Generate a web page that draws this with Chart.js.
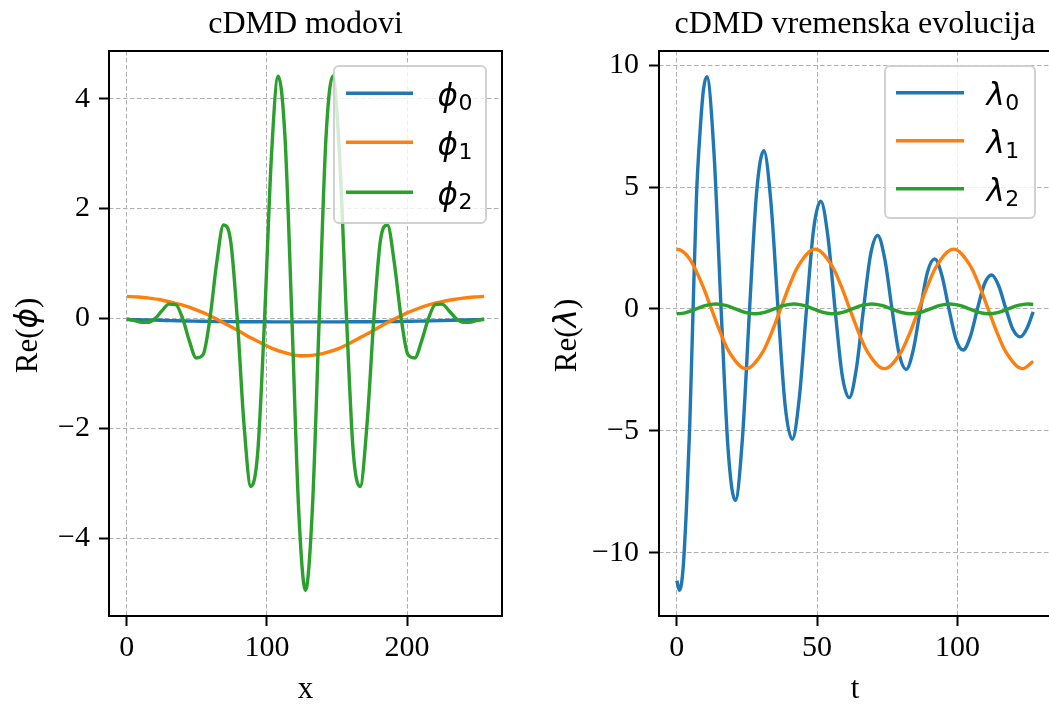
<!DOCTYPE html>
<html><head><meta charset="utf-8">
<script src="https://cdn.jsdelivr.net/npm/chart.js@4.4.1/dist/chart.umd.min.js"></script>
<style>
html,body{margin:0;padding:0;background:#fff;overflow:hidden;width:1049px;height:704px;position:relative;}
#c1{position:absolute;left:0;top:0;}
#c2{position:absolute;left:530px;top:0;}
</style></head><body>
<canvas id="c1" width="525" height="704"></canvas>
<canvas id="c2" width="570" height="704"></canvas>
<script>
// ---------- Left panel: cDMD modes ----------
const phiX = [0,8,16,24,32,40,48,56,64,72,80,88,96,104,112,120,128,136,144,152,160,168,176,184,192,200,208,216,224,232,240,248,255];
const phi0 = [-0.020,-0.025,-0.030,-0.035,-0.040,-0.045,-0.050,-0.053,-0.056,-0.058,-0.060,-0.061,-0.062,-0.063,-0.063,-0.064,-0.064,-0.064,-0.063,-0.063,-0.062,-0.061,-0.060,-0.058,-0.056,-0.053,-0.050,-0.045,-0.040,-0.035,-0.030,-0.025,-0.020];
const phi1 = [0.40,0.39,0.37,0.34,0.29,0.24,0.17,0.09,-0.01,-0.12,-0.23,-0.35,-0.45,-0.55,-0.62,-0.67,-0.68,-0.66,-0.61,-0.54,-0.44,-0.33,-0.22,-0.10,0.00,0.10,0.18,0.25,0.30,0.34,0.37,0.39,0.40];
const phi2X = [0,5.6,10.5,15.4,20.3,25.1,30.0,34.9,39.8,44.6,49.5,54.4,59.3,64.1,69.0,73.9,78.8,83.6,88.5,93.4,98.3,103.1,108.0,112.9,117.8,122.6,127.5,132.4,137.3,142.1,147.0,151.9,156.8,161.6,166.5,171.4,176.3,181.1,186.0,190.9,195.8,200.6,205.5,210.4,215.3,220.1,225.0,229.9,234.8,239.6,244.5,249.4,255];
const phi2 = [-0.01,-0.04,-0.07,-0.07,0.00,0.14,0.26,0.25,0.00,-0.41,-0.72,-0.66,0.00,1.01,1.70,1.44,0.00,-1.93,-3.06,-2.44,0.00,2.91,4.41,3.28,0.00,-3.47,-4.95,-3.47,0.00,3.28,4.41,2.91,0.00,-2.44,-3.06,-1.93,0.00,1.44,1.70,1.01,0.00,-0.66,-0.72,-0.41,0.00,0.25,0.26,0.14,0.00,-0.07,-0.07,-0.04,-0.01];
const xTicksLeft = [0,100,200];
const yTicksLeft = [-4,-2,0,2,4];

// ---------- Right panel: cDMD time evolution ----------
const lam0T = [0,0.95,2.2,3.5,4.6,5.8,7.0,8.3,9.5,10.7,13.24,15.78,18.31,20.85,23.39,25.93,28.46,31.0,33.54,36.08,38.61,41.15,43.69,46.23,48.76,51.3,53.84,56.38,58.91,61.45,63.99,66.53,69.06,71.6,74.14,76.68,79.21,81.75,84.29,86.83,89.36,91.9,94.44,96.98,99.51,102.05,104.59,107.13,109.66,112.2,114.74,117.28,119.81,122.35,124.89,127];
const lam0 = [-11.15,-11.55,-10.7,-8.0,-4.8,0,4.6,7.3,9.0,9.53,6.42,0,-5.83,-7.86,-5.30,0,4.81,6.49,4.37,0,-3.97,-5.35,-3.61,0,3.28,4.42,2.97,0,-2.70,-3.64,-2.45,0,2.23,3.01,2.03,0,-1.84,-2.48,-1.67,0,1.52,2.05,1.38,0,-1.25,-1.69,-1.14,0,1.03,1.39,0.94,0,-0.85,-1.15,-0.77,-0.12];
const lam1T = [0,1.54,3.08,4.62,6.16,9.25,12.33,15.41,18.49,24.65,30.81,33.9,36.98,40.06,43.14,49.3,55.46,58.55,61.63,64.71,67.79,73.95,80.11,83.2,86.28,89.36,92.44,98.6,104.76,107.85,110.93,114.01,117.09,123.25,127];
const lam1 = [2.45,2.40,2.26,2.04,1.73,0.94,0,-0.94,-1.73,-2.45,-1.73,-0.94,0,0.94,1.73,2.45,1.73,0.94,0,-0.94,-1.73,-2.45,-1.73,-0.94,0,0.94,1.73,2.45,1.73,0.94,0,-0.94,-1.73,-2.45,-2.15];
const lam2T = [0,1.74,3.48,6.95,10.43,13.9,17.38,20.85,24.33,27.8,31.28,34.75,38.23,41.7,45.18,48.65,52.13,55.6,59.08,62.55,66.03,69.5,72.98,76.45,79.93,83.4,86.88,90.35,93.83,97.3,100.78,104.25,107.73,111.2,114.68,118.15,121.63,125.1,127];
const lam2 = [-0.2,-0.185,-0.14,0,0.14,0.2,0.14,0,-0.14,-0.2,-0.14,0,0.14,0.2,0.14,0,-0.14,-0.2,-0.14,0,0.14,0.2,0.14,0,-0.14,-0.2,-0.14,0,0.14,0.2,0.14,0,-0.14,-0.2,-0.14,0,0.14,0.2,0.18];
const tTicks = [0,50,100];
const yTicksRight = [-10,-5,0,5,10];

// ---------- helpers ----------
const SERIF = '"Liberation Serif", "Times New Roman", serif';
const SANS = '"DejaVu Sans", sans-serif';
const C = ['#1f77b4', '#ff7f0e', '#2ca02c'];
const zip = (xs, ys) => xs.map((x, i) => ({x: x, y: ys[i]}));
const fmt = v => (v < 0 ? '\u2212' + Math.abs(v) : String(v));

function axis(min, max, ticksArr, fitFn, pad) {
  return {
    type: 'linear', min: min, max: max,
    afterBuildTicks: s => { s.ticks = ticksArr.map(v => ({value: v})); },
    afterFit: fitFn,
    grid: { color: '#b0b0b0', lineWidth: 1, drawTicks: true, tickLength: 10, tickColor: '#000', tickWidth: 2, tickBorderDash: [] },
    border: { display: false, dash: [4.5, 2.5] },
    ticks: { color: '#000', font: {family: SERIF, size: 30}, padding: pad, maxRotation: 0, minRotation: 0, autoSkip: false, callback: v => fmt(v) }
  };
}

function ds(data, color, order) {
  return { data: data, borderColor: color, backgroundColor: color, borderWidth: 3.4, pointRadius: 0, pointHoverRadius: 0, fill: false, cubicInterpolationMode: 'monotone', order: order };
}

function roundRect(ctx, x, y, w, h, r) {
  ctx.beginPath();
  ctx.moveTo(x + r, y);
  ctx.arcTo(x + w, y, x + w, y + h, r);
  ctx.arcTo(x + w, y + h, x, y + h, r);
  ctx.arcTo(x, y + h, x, y, r);
  ctx.arcTo(x, y, x + w, y, r);
  ctx.closePath();
}

function decoPlugin(cfg) {
  return {
    id: 'deco',
    afterDraw(chart) {
      const ctx = chart.ctx, a = chart.chartArea;
      ctx.save();
      // frame (spines)
      ctx.strokeStyle = '#000'; ctx.lineWidth = 2;
      ctx.strokeRect(a.left, a.top, a.right - a.left, a.bottom - a.top);
      // x label
      ctx.fillStyle = '#000';
      ctx.font = '31px ' + SERIF;
      ctx.textAlign = 'center'; ctx.textBaseline = 'alphabetic';
      ctx.fillText(cfg.xLabel, (a.left + a.right) / 2, cfg.xLabelBase);
      // y label (mixed fonts, rotated)
      const parts = [
        {t: 'Re(', f: '31px ' + SERIF},
        {t: cfg.ySym, f: 'italic 31px ' + SANS},
        {t: ')', f: '31px ' + SERIF}
      ];
      let W = 0;
      parts.forEach(p => { ctx.font = p.f; p.w = ctx.measureText(p.t).width; W += p.w; });
      ctx.save();
      ctx.translate(cfg.yLabelBase, (a.top + a.bottom) / 2 + 2);
      ctx.rotate(-Math.PI / 2);
      ctx.textAlign = 'left';
      let x = -W / 2;
      parts.forEach(p => { ctx.font = p.f; ctx.fillText(p.t, x, 0); x += p.w; });
      ctx.restore();
      // legend
      const L = cfg.legend;
      roundRect(ctx, L.x, L.y, L.w, L.h, 5);
      ctx.fillStyle = 'rgba(255,255,255,0.8)';
      ctx.fill();
      ctx.strokeStyle = 'rgba(204,204,204,0.9)'; ctx.lineWidth = 2;
      ctx.stroke();
      L.rows.forEach((r, i) => {
        ctx.beginPath();
        ctx.strokeStyle = C[i]; ctx.lineWidth = 3.4;
        ctx.moveTo(L.x1, r); ctx.lineTo(L.x2, r); ctx.stroke();
        ctx.fillStyle = '#000'; ctx.textAlign = 'left';
        ctx.font = 'italic 31px ' + SANS;
        ctx.fillText(cfg.ySym, L.tx, r + 12.5);
        const mw = ctx.measureText(cfg.ySym).width;
        ctx.font = '22px ' + SANS;
        ctx.fillText(String(i), L.tx + mw + 0.5, r + 17);
      });
      ctx.restore();
    }
  };
}

function titleOpts(text) {
  return { display: true, text: text, color: '#000', fullSize: false,
           font: {family: SERIF, size: 32, weight: 'normal', lineHeight: 1.2},
           padding: {top: 5.5, bottom: 7.1} };
}

// ---------- Left chart ----------
new Chart(document.getElementById('c1'), {
  type: 'line',
  data: { datasets: [
    ds(zip(phiX, phi0), C[0], 3),
    ds(zip(phiX, phi1), C[1], 2),
    ds(zip(phi2X, phi2), C[2], 1)
  ]},
  options: {
    responsive: false, animation: false, devicePixelRatio: 1,
    layout: { padding: {left: 0, right: 23, top: 0, bottom: 0} },
    plugins: { legend: {display: false}, tooltip: {enabled: false}, title: titleOpts('cDMD modovi') },
    scales: {
      x: axis(-12.75, 267.75, xTicksLeft, s => { s.height = 88; }, 4),
      y: axis(-5.4175, 4.8675, yTicksLeft, s => { s.width = 109; }, 9)
    }
  },
  plugins: [decoPlugin({
    xLabel: 'x', xLabelBase: 698, ySym: '\u03D5', yLabelBase: 36.5,
    legend: {x: 334, y: 66, w: 152, h: 157, x1: 346, x2: 413, tx: 437.5, rows: [93.3, 142.3, 192.3]}
  })]
});

// ---------- Right chart ----------
new Chart(document.getElementById('c2'), {
  type: 'line',
  data: { datasets: [
    ds(zip(lam0T, lam0), C[0], 3),
    ds(zip(lam1T, lam1), C[1], 2),
    ds(zip(lam2T, lam2), C[2], 1)
  ]},
  options: {
    responsive: false, animation: false, devicePixelRatio: 1,
    layout: { padding: {left: 0, right: 49, top: 0, bottom: 0} },
    plugins: { legend: {display: false}, tooltip: {enabled: false}, title: titleOpts('cDMD vremenska evolucija') },
    scales: {
      x: axis(-6.35, 133.35, tTicks, s => { s.height = 88; }, 4),
      y: axis(-12.6, 10.58, yTicksRight, s => { s.width = 129; }, 10)
    }
  },
  plugins: [decoPlugin({
    xLabel: 't', xLabelBase: 698, ySym: '\u03BB', yLabelBase: 46,
    legend: {x: 355, y: 66, w: 150, h: 152, x1: 366, x2: 434, tx: 456.5, rows: [92.7, 140.7, 188.7]}
  })]
});
</script>
</body></html>
